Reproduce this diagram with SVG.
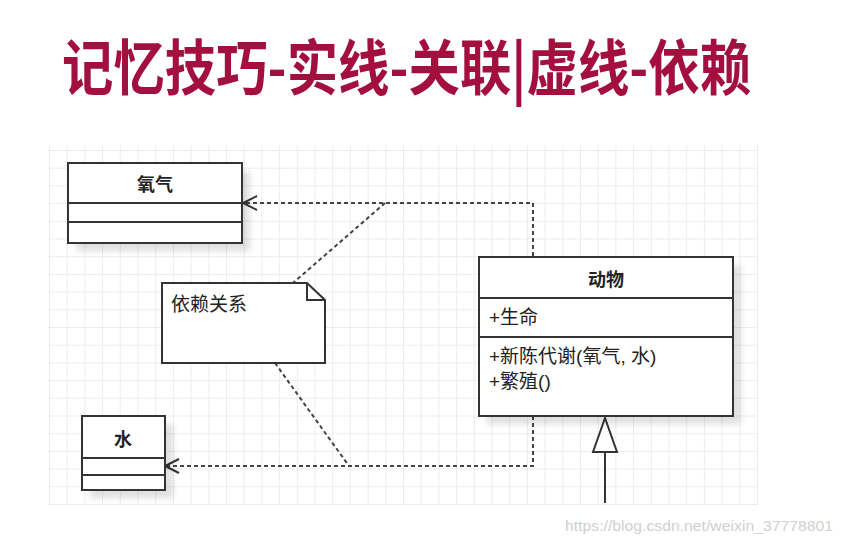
<svg xmlns="http://www.w3.org/2000/svg" width="843" height="545" viewBox="0 0 843 545">
<style>
.box{fill:#fff;stroke:#333;stroke-width:2}
.sep{stroke:#333;stroke-width:2}
.shadow{fill:#000;opacity:0.12;filter:url(#blur)}
.dash{fill:none;stroke:#444;stroke-width:2;stroke-dasharray:4 3}
.solid{fill:none;stroke:#333;stroke-width:2}
.cls{font-family:"Noto Sans CJK SC",sans-serif;font-weight:bold;font-size:18px;fill:#222;text-anchor:middle}
.txt{font-family:"Liberation Sans","Noto Sans CJK SC",sans-serif;font-size:19px;fill:#222}
.title{font-family:"Noto Sans CJK SC",sans-serif;font-weight:bold;font-size:60px;fill:#A31040}
.wm{font-family:"Liberation Sans",Arial,sans-serif;font-size:15px;fill:#d0d0d0}
</style>
<defs>
<filter id="blur" x="-20%" y="-20%" width="140%" height="140%"><feGaussianBlur stdDeviation="3"/></filter>
<pattern id="grid" patternUnits="userSpaceOnUse" x="49" y="150" width="17.7" height="17.7">
<path d="M0,0.5 H17.7 M0.5,0 V17.7" fill="none" stroke="#ececec" stroke-width="1"/>
</pattern>
</defs>
<rect x="0" y="0" width="843" height="545" fill="#fff"/>
<rect x="48" y="145" width="710" height="360" fill="url(#grid)"/>
<text class="title" transform="translate(62,90) scale(0.857,1)" x="0" y="0">记忆技巧-实线-关联|虚线-依赖</text>

<g id="connectors">
<path class="dash" d="M533,256 V203 H245"/>
<polyline class="solid" points="257,196 243,203 257,210"/>
<path class="dash" d="M533,416 V466 H167"/>
<polyline class="solid" points="179,459 165,466 179,473"/>
<path class="dash" d="M385,203 L293,283"/>
<path class="dash" d="M275,363 L349,466"/>
<line class="solid" x1="605" y1="503" x2="605" y2="452"/>
<polygon points="605,418 593,452 617,452" fill="#fff" stroke="#333" stroke-width="2"/>
</g>

<g id="oxygen">
<rect class="shadow" x="76" y="171" width="174" height="80"/>
<rect class="box" x="68" y="163" width="174" height="80"/>
<line class="sep" x1="68" y1="203" x2="242" y2="203"/>
<line class="sep" x1="68" y1="222" x2="242" y2="222"/>
<text class="cls" x="155" y="191">氧气</text>
</g>

<g id="water">
<rect class="shadow" x="90" y="424" width="83" height="74"/>
<rect class="box" x="82" y="416" width="83" height="74"/>
<line class="sep" x1="82" y1="458" x2="165" y2="458"/>
<line class="sep" x1="82" y1="475" x2="165" y2="475"/>
<text class="cls" x="123" y="446">水</text>
</g>

<g id="note">
<path class="box" d="M162,283 H307 L325,300 V363 H162 Z"/>
<path class="solid" d="M307,283 V300 H325"/>
<text class="txt" x="171" y="311">依赖关系</text>
</g>

<g id="animal">
<rect class="shadow" x="487" y="265" width="254" height="159"/>
<rect class="box" x="479" y="257" width="254" height="159"/>
<line class="sep" x1="479" y1="298" x2="733" y2="298"/>
<line class="sep" x1="479" y1="337" x2="733" y2="337"/>
<text class="cls" x="606" y="286">动物</text>
<text class="txt" x="489" y="324">+生命</text>
<text class="txt" x="489" y="363">+新陈代谢(氧气, 水)</text>
<text class="txt" x="489" y="388">+繁殖()</text>
</g>

<text class="wm" x="565" y="531" textLength="268" lengthAdjust="spacingAndGlyphs">https://blog.csdn.net/weixin_37778801</text>
</svg>
